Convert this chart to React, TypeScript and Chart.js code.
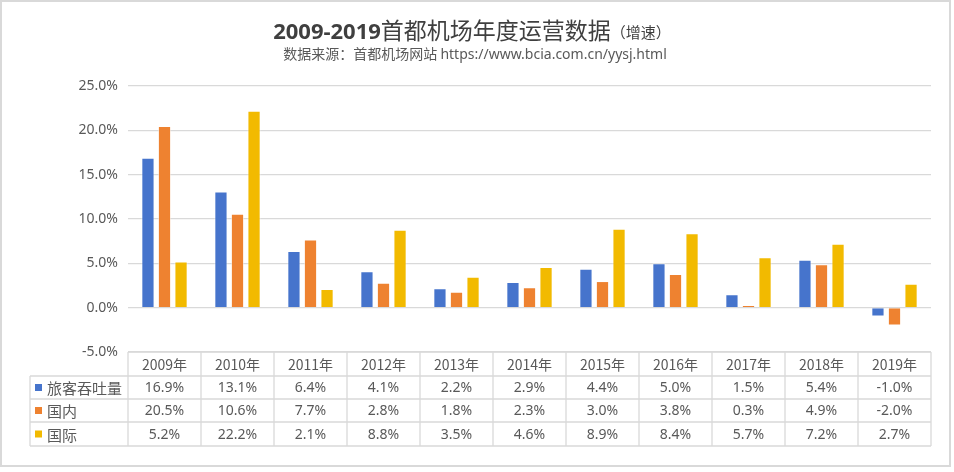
import React, { useEffect, useRef } from "react";
import { Chart, registerables } from "chart.js";

Chart.register(...registerables);

const years = ["2009年", "2010年", "2011年", "2012年", "2013年", "2014年", "2015年", "2016年", "2017年", "2018年", "2019年"];
const seriesNames = ["旅客吞吐量", "国内", "国际"];
const passengers = [16.9, 13.1, 6.4, 4.1, 2.2, 2.9, 4.4, 5.0, 1.5, 5.4, -1.0];
const domestic = [20.5, 10.6, 7.7, 2.8, 1.8, 2.3, 3.0, 3.8, 0.3, 4.9, -2.0];
const international = [5.2, 22.2, 2.1, 8.8, 3.5, 4.6, 8.9, 8.4, 5.7, 7.2, 2.7];
const colors = ["#4674CC", "#EE8230", "#F2BA00"];
const titleMain = "2009-2019";
const titleCjk = "首都机场年度运营数据";
const titleSuffix = "（增速）";
const subtitleCjk = "数据来源：首都机场网站 ";
const subtitleUrl = "https://www.bcia.com.cn/yysj.html";

const CJK = '"Noto Sans CJK SC", "Noto Sans", sans-serif';
const LATIN = '"Noto Sans", "Liberation Sans", sans-serif';
const GRID = "#D9D9D9";
const TEXT = "#595959";

const decorPlugin = {
  id: "decor",
  afterDraw(chart: any) {
    const ctx = chart.ctx as CanvasRenderingContext2D;
    const area = chart.chartArea;
    const xs = chart.scales.x;
    const n = years.length;
    const colW = (area.right - area.left) / n;
    const rows = [passengers, domestic, international];

    ctx.save();
    // outer frame
    ctx.strokeStyle = GRID;
    ctx.lineWidth = 2;
    ctx.strokeRect(1, 1, 949, 465);

    // title
    ctx.textBaseline = "alphabetic";
    ctx.fillStyle = "#3F3F3F";
    const f1 = 'bold 22px "Open Sans", "Noto Sans", sans-serif';
    const f2 = `23px ${CJK}`;
    const f3 = `15px ${CJK}`;
    ctx.font = f1;
    const w1 = ctx.measureText(titleMain).width;
    ctx.font = f2;
    const w2 = ctx.measureText(titleCjk).width;
    ctx.font = f3;
    const w3 = ctx.measureText(titleSuffix).width;
    let tx = 472 - (w1 + w2 + w3) / 2;
    const ty = 39;
    ctx.textAlign = "left";
    ctx.font = f1;
    ctx.fillText(titleMain, tx, ty);
    tx += w1;
    ctx.font = f2;
    ctx.fillText(titleCjk, tx, ty);
    tx += w2;
    ctx.font = f3;
    ctx.fillText(titleSuffix, tx, ty - 1);

    // subtitle
    ctx.fillStyle = TEXT;
    const s1 = `14px ${CJK}`;
    const s2 = `14px ${LATIN}`;
    ctx.font = s1;
    const sw1 = ctx.measureText(subtitleCjk).width;
    ctx.font = s2;
    const sw2 = ctx.measureText(subtitleUrl).width;
    let sx = 475 - (sw1 + sw2) / 2;
    const sy = 59;
    ctx.font = s1;
    ctx.fillText(subtitleCjk, sx, sy);
    sx += sw1;
    ctx.font = s2;
    ctx.fillText(subtitleUrl, sx, sy);

    // data table
    const top = area.bottom;
    const rowY = [top, top + 24, top + 47, top + 70, top + 94];
    const labelLeft = 30;
    ctx.strokeStyle = GRID;
    ctx.lineWidth = 1.3;
    ctx.beginPath();
    ctx.moveTo(area.left, rowY[0]);
    ctx.lineTo(area.right, rowY[0]);
    for (let r = 1; r < rowY.length; r++) {
      ctx.moveTo(labelLeft, rowY[r]);
      ctx.lineTo(area.right, rowY[r]);
    }
    for (let i = 0; i <= n; i++) {
      const x = area.left + i * colW;
      ctx.moveTo(x, rowY[0]);
      ctx.lineTo(x, rowY[4]);
    }
    ctx.moveTo(labelLeft, rowY[1]);
    ctx.lineTo(labelLeft, rowY[4]);
    ctx.stroke();

    ctx.textAlign = "center";
    ctx.textBaseline = "middle";
    ctx.fillStyle = TEXT;
    ctx.font = `14px ${CJK}`;
    years.forEach((y, i) => {
      ctx.fillText(y, xs.getPixelForValue(i), (rowY[0] + rowY[1]) / 2 + 1);
    });
    ctx.font = `14px ${LATIN}`;
    rows.forEach((vals, r) => {
      const cy = (rowY[r + 1] + rowY[r + 2]) / 2 + 1;
      vals.forEach((v, i) => {
        ctx.fillText(v.toFixed(1) + "%", xs.getPixelForValue(i), cy);
      });
    });
    ctx.textAlign = "left";
    ctx.font = `15px ${CJK}`;
    seriesNames.forEach((name, r) => {
      const cy = (rowY[r + 1] + rowY[r + 2]) / 2;
      ctx.fillStyle = colors[r];
      ctx.fillRect(35, cy - 3.5, 7, 7);
      ctx.fillStyle = TEXT;
      ctx.fillText(name, 47, cy + 1);
    });
    ctx.restore();
  },
};

export default function App() {
  const ref = useRef<HTMLCanvasElement | null>(null);
  useEffect(() => {
    if (!ref.current) return;
    const chart = new Chart(ref.current, {
      type: "bar",
      data: {
        labels: years,
        datasets: [passengers, domestic, international].map((d, i) => ({
          label: seriesNames[i],
          data: d,
          backgroundColor: colors[i],
          borderColor: "rgba(255,255,255,0.5)",
          borderWidth: 1,
          categoryPercentage: 0.68,
          barPercentage: 0.8,
        })),
      },
      options: {
        animation: false,
        responsive: true,
        maintainAspectRatio: false,
        layout: { padding: { left: 0, right: 23, top: 86, bottom: 120 } },
        plugins: {
          legend: { display: false },
          title: { display: false },
          tooltip: { enabled: false },
        },
        scales: {
          x: {
            display: false,
          },
          y: {
            min: -5,
            max: 25,
            afterFit: (s: any) => {
              s.width = 128;
            },
            ticks: {
              stepSize: 5,
              color: TEXT,
              padding: 10,
              font: { family: LATIN, size: 14 },
              callback: (v: any) => Number(v).toFixed(1) + "%",
            },
            grid: { color: GRID, lineWidth: 1.3, drawTicks: false },
            border: { display: false },
          },
        },
      },
      plugins: [decorPlugin],
    });
    return () => chart.destroy();
  }, []);
  return (
    <div style={{ position: "fixed", left: 0, top: 0, width: 954, height: 472, background: "#fff" }}>
      <canvas ref={ref} />
    </div>
  );
}
